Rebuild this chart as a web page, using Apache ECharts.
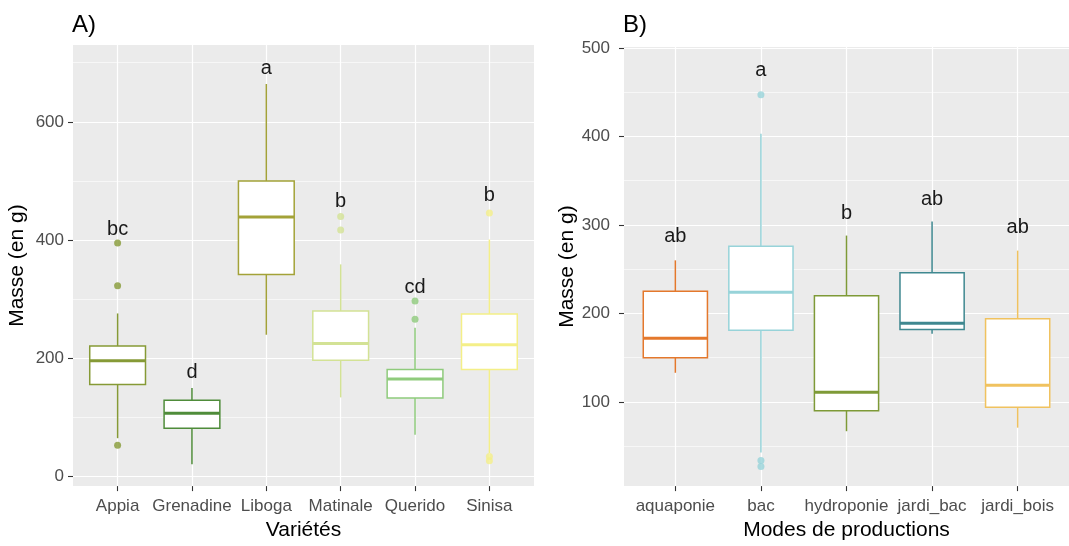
<!DOCTYPE html>
<html>
<head>
<meta charset="utf-8">
<script src="https://cdn.jsdelivr.net/npm/echarts@6/dist/echarts.min.js"></script>
<style>
html,body{margin:0;padding:0;background:#fff;}
#chart{width:1069px;height:546px;}
</style>
</head>
<body>
<div id="chart"></div>
<script>
// ---------- Data ----------
const leftCategories = ['Appia', 'Grenadine', 'Liboga', 'Matinale', 'Querido', 'Sinisa'];
// [lower whisker, Q1, median, Q3, upper whisker]
const leftBoxes = [
  [65, 156, 196, 221, 276],
  [21, 82, 107, 129, 150],
  [240, 342, 439, 500, 664],
  [134, 197, 225, 280, 359],
  [71, 133, 165, 181, 252],
  [40, 181, 223, 275, 401]
];
const leftOutliers = [
  [395, 323, 53],
  [],
  [],
  [440, 417],
  [297, 266],
  [446, 34, 27]
];
const leftLetters = ['bc', 'd', 'a', 'b', 'cd', 'b'];
const leftLetterY = [418, 176, 690, 465, 320, 476];
const leftColors = ['#869a36', '#4f8c3a', '#a3a238', '#d3e295', '#8fcb7c', '#f4ef88'];
const leftTicks = [0, 200, 400, 600];
const leftMinorTicks = [100, 300, 500, 700];

const rightCategories = ['aquaponie', 'bac', 'hydroponie', 'jardi_bac', 'jardi_bois'];
const rightBoxes = [
  [133, 150, 172, 225, 260],
  [43, 181, 224, 276, 403],
  [67, 90, 111, 220, 288],
  [177, 182, 189, 246, 304],
  [71, 94, 119, 194, 271]
];
const rightOutliers = [
  [],
  [447, 34, 27],
  [],
  [],
  []
];
const rightLetters = ['ab', 'a', 'b', 'ab', 'ab'];
const rightLetterY = [287, 475, 313, 329, 297];
const rightColors = ['#e4782c', '#97d3d9', '#7e9a37', '#3f8890', '#f0c25f'];
const rightTicks = [100, 200, 300, 400, 500];
const rightMinorTicks = [50, 150, 250, 350, 450];

// ---------- Helpers ----------
const FONT = "'Liberation Sans', Arial, sans-serif";

function boxRender(colors) {
  return function (params, api) {
    const i = api.value(0);
    const c = colors[params.dataIndex];
    const lo = api.coord([i, api.value(1)]);
    const q1 = api.coord([i, api.value(2)]);
    const md = api.coord([i, api.value(3)]);
    const q3 = api.coord([i, api.value(4)]);
    const hi = api.coord([i, api.value(5)]);
    const hw = api.size([0.75, 0])[0] / 2;
    const x = q1[0];
    return {
      type: 'group',
      children: [
        { type: 'line', shape: { x1: x, y1: q3[1], x2: x, y2: hi[1] }, style: { stroke: c, lineWidth: 1.5 } },
        { type: 'line', shape: { x1: x, y1: q1[1], x2: x, y2: lo[1] }, style: { stroke: c, lineWidth: 1.5 } },
        { type: 'rect', shape: { x: x - hw, y: q3[1], width: 2 * hw, height: q1[1] - q3[1] },
          style: { fill: '#ffffff', stroke: c, lineWidth: 1.5 } },
        { type: 'line', shape: { x1: x - hw, y1: md[1], x2: x + hw, y2: md[1] }, style: { stroke: c, lineWidth: 3 } }
      ]
    };
  };
}

function letterRender(letters) {
  return function (params, api) {
    const p = api.coord([api.value(0), api.value(1)]);
    return {
      type: 'text',
      x: p[0], y: p[1],
      style: {
        text: letters[params.dataIndex],
        fill: '#1a1a1a',
        font: '20px ' + FONT,
        textAlign: 'center',
        textVerticalAlign: 'middle'
      }
    };
  };
}

function boxData(boxes) {
  return boxes.map((b, i) => [i].concat(b));
}
function outlierData(outs, colors) {
  const res = [];
  outs.forEach((arr, i) => arr.forEach(v => res.push({ value: [i, v], itemStyle: { color: colors[i] } })));
  return res;
}
function letterData(ys) {
  return ys.map((y, i) => [i, y]);
}

function xAxisCfg(grid, cats, title, gap) {
  const idx = cats.map((c, i) => i);
  return {
    type: 'value', gridIndex: grid, position: 'bottom',
    min: -0.6, max: cats.length - 1 + 0.6,
    axisLine: { show: false, onZero: false },
    axisTick: { show: true, customValues: idx, length: 5, lineStyle: { color: '#333333', width: 1.1 } },
    axisLabel: { show: true, customValues: idx, margin: 12, color: '#4d4d4d', fontSize: 17, fontFamily: FONT,
      formatter: v => cats[Math.round(v)] },
    splitLine: { show: true, lineStyle: { color: '#ffffff', width: 1.2 } },
    name: title, nameLocation: 'middle', nameGap: gap,
    nameTextStyle: { color: '#000000', fontSize: 21, fontFamily: FONT, verticalAlign: 'middle' }
  };
}
function yAxisCfg(grid, min, max, ticks, title, margin, gap) {
  return {
    type: 'value', gridIndex: grid, position: 'left', min: min, max: max,
    axisLine: { show: false, onZero: false },
    axisTick: { show: true, customValues: ticks, length: 5, lineStyle: { color: '#333333', width: 1.1 } },
    axisLabel: { show: true, customValues: ticks, margin: margin, color: '#4d4d4d', fontSize: 17, fontFamily: FONT },
    splitLine: { show: true, lineStyle: { color: '#ffffff', width: 1.2 } },
    name: title, nameLocation: 'middle', nameGap: gap,
    nameTextStyle: { color: '#000000', fontSize: 21, fontFamily: FONT, verticalAlign: 'middle' }
  };
}
function yMinorCfg(grid, min, max, ticks) {
  return {
    type: 'value', gridIndex: grid, position: 'left', min: min, max: max,
    axisLine: { show: false, onZero: false },
    axisTick: { show: false, customValues: ticks },
    axisLabel: { show: false, customValues: ticks },
    splitLine: { show: true, lineStyle: { color: '#ffffff', width: 0.6 } }
  };
}

const chart = echarts.init(document.getElementById('chart'), null, { renderer: 'canvas' });
chart.setOption({
  backgroundColor: '#ffffff',
  animation: false,
  textStyle: { fontFamily: FONT },
  title: [
    { text: 'A)', left: 72, top: 13, padding: 0,
      textStyle: { fontSize: 24, fontWeight: 'normal', color: '#000', fontFamily: FONT } },
    { text: 'B)', left: 623, top: 13, padding: 0,
      textStyle: { fontSize: 24, fontWeight: 'normal', color: '#000', fontFamily: FONT } }
  ],
  grid: [
    { left: 73, top: 45, width: 461, height: 450, show: true, backgroundColor: '#ebebeb', borderWidth: 0 },
    { left: 624, top: 47, width: 474, height: 448, show: true, backgroundColor: '#ebebeb', borderWidth: 0 }
  ],
  xAxis: [
    xAxisCfg(0, leftCategories, 'Variétés', 44),
    xAxisCfg(1, rightCategories, 'Modes de productions', 44)
  ],
  yAxis: [
    yAxisCfg(0, -16, 730, leftTicks, 'Masse (en g)', 9, 56),
    yMinorCfg(0, -16, 730, leftMinorTicks),
    yAxisCfg(1, 5, 501, rightTicks, 'Masse (en g)', 14, 56),
    yMinorCfg(1, 5, 501, rightMinorTicks)
  ],
  series: [
    { type: 'custom', xAxisIndex: 0, yAxisIndex: 0, renderItem: boxRender(leftColors),
      encode: { x: 0, y: [1, 2, 3, 4, 5] }, data: boxData(leftBoxes), z: 2 },
    { type: 'scatter', xAxisIndex: 0, yAxisIndex: 0, symbolSize: 7, data: outlierData(leftOutliers, leftColors), z: 3 },
    { type: 'custom', xAxisIndex: 0, yAxisIndex: 0, renderItem: letterRender(leftLetters),
      encode: { x: 0, y: 1 }, data: letterData(leftLetterY), z: 4 },
    { type: 'custom', xAxisIndex: 1, yAxisIndex: 2, renderItem: boxRender(rightColors),
      encode: { x: 0, y: [1, 2, 3, 4, 5] }, data: boxData(rightBoxes), z: 2 },
    { type: 'scatter', xAxisIndex: 1, yAxisIndex: 2, symbolSize: 7, data: outlierData(rightOutliers, rightColors), z: 3 },
    { type: 'custom', xAxisIndex: 1, yAxisIndex: 2, renderItem: letterRender(rightLetters),
      encode: { x: 0, y: 1 }, data: letterData(rightLetterY), z: 4 }
  ]
});
</script>
</body>
</html>
